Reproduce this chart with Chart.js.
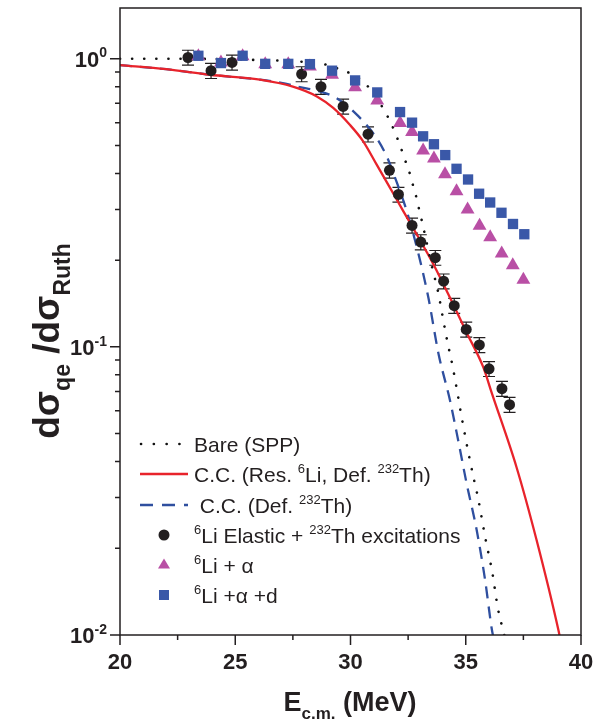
<!DOCTYPE html>
<html>
<head>
<meta charset="utf-8">
<script src="https://cdn.jsdelivr.net/npm/chart.js@4.4.1/dist/chart.umd.min.js"></script>
<style>
  html, body { margin: 0; padding: 0; background: #fff; }
  canvas { display: block; }
</style>
</head>
<body>
<canvas id="chart" width="615" height="726"></canvas>
<script>
// data
const elasticE = [22.95, 23.95, 24.86, 27.88, 28.72, 29.68, 30.76, 31.69, 32.08, 32.67, 33.05, 33.68, 34.04, 34.5, 35.02, 35.59, 36.01, 36.57, 36.9];
const elasticV = [1.01, 0.909, 0.971, 0.885, 0.80, 0.683, 0.547, 0.41, 0.338, 0.264, 0.231, 0.204, 0.169, 0.139, 0.115, 0.1016, 0.0839, 0.0716, 0.063];
const elasticErr = [0.06, 0.055, 0.058, 0.053, 0.048, 0.041, 0.033, 0.025, 0.02, 0.016, 0.014, 0.012, 0.01, 0.0083, 0.0069, 0.0061, 0.005, 0.0043, 0.0038];

const alphaE = [23.4, 24.38, 25.32, 26.3, 27.3, 28.24, 29.2, 30.2, 31.16, 32.15, 32.67, 33.15, 33.62, 34.1, 34.6, 35.08, 35.6, 36.06, 36.56, 37.04, 37.5];
const alphaV = [1.02, 0.97, 1.02, 0.956, 0.956, 0.94, 0.88, 0.796, 0.716, 0.598, 0.557, 0.48, 0.451, 0.397, 0.347, 0.30, 0.263, 0.24, 0.211, 0.192, 0.171];

const alphaDE = [23.4, 24.38, 25.32, 26.3, 27.3, 28.24, 29.2, 30.2, 31.16, 32.15, 32.67, 33.15, 33.62, 34.11, 34.6, 35.1, 35.58, 36.06, 36.55, 37.05, 37.54];
const alphaDV = [1.024, 0.966, 1.024, 0.96, 0.96, 0.958, 0.909, 0.841, 0.764, 0.653, 0.60, 0.538, 0.505, 0.463, 0.415, 0.381, 0.34, 0.317, 0.292, 0.267, 0.246];

const bareE = [20, 22, 24, 26, 27.2, 28, 28.6, 29.1, 29.6, 30.2, 30.7, 31.1, 31.45, 31.74, 31.97, 32.17, 32.35, 32.53, 32.68, 32.83, 32.96, 33.08, 33.2, 33.56, 33.81, 34.0, 34.2, 34.42, 34.62, 34.8, 35.19, 35.55, 35.84, 36.15, 36.4, 36.66, 36.75];
const bareV = [1.0, 1.0, 0.998, 0.99, 0.984, 0.975, 0.966, 0.946, 0.915, 0.873, 0.81, 0.74, 0.664, 0.602, 0.545, 0.495, 0.449, 0.41, 0.371, 0.337, 0.304, 0.277, 0.251, 0.186, 0.154, 0.127, 0.1045, 0.0864, 0.0707, 0.0583, 0.040, 0.0294, 0.0219, 0.0165, 0.0123, 0.0101, 0.0094];

const ccResE = [20, 22, 23.9, 26.07, 27.5, 28.54, 29.25, 29.97, 30.55, 31.13, 31.71, 32.29, 32.87, 33.59, 34.32, 35.04, 35.76, 36.12, 37.2, 38.07, 39.02, 39.12];
const ccResV = [0.95, 0.92, 0.88, 0.846, 0.80, 0.74, 0.675, 0.59, 0.517, 0.43, 0.357, 0.296, 0.246, 0.194, 0.148, 0.112, 0.085, 0.0695, 0.0383, 0.0214, 0.0104, 0.0095];

const ccDefE = [20, 22, 23.9, 26.07, 27.0, 27.8, 28.54, 29.4, 30.34, 31.13, 31.6, 31.93, 32.44, 32.95, 33.38, 33.82, 34.32, 34.68, 35.04, 35.48, 35.84, 36.12, 36.22];
const ccDefV = [0.95, 0.92, 0.88, 0.846, 0.825, 0.797, 0.775, 0.73, 0.632, 0.531, 0.453, 0.387, 0.296, 0.21, 0.148, 0.0945, 0.065, 0.047, 0.0335, 0.023, 0.0155, 0.0106, 0.0096];

const xMajor = [20, 25, 30, 35, 40];
const xMinor = [22.5, 27.5, 32.5, 37.5];
const yMajor = [1, 0.1, 0.01];
const yTickLabels = [['10', '0'], ['10', '-1'], ['10', '-2']];

const INK = '#231f20';
const RED = '#e8232b';
const BLUE = '#2f4f9f';
const PINK = '#b94fa5';
const SQBLUE = '#3a58a8';
const FONT = '"Liberation Sans", Arial, sans-serif';

function pts(xs, ys) {
  return xs.map((x, i) => ({ x: x, y: ys[i] }));
}

// text made of runs: n = normal, sup = superscript, sub = subscript
function drawRuns(ctx, x, y, runs, size, bold, align) {
  const w = bold ? 'bold ' : '';
  const small = Math.round(size * 0.62);
  let total = 0;
  runs.forEach(r => {
    ctx.font = w + (r.s === 'n' ? size : small) + 'px ' + FONT;
    r.w = ctx.measureText(r.t).width;
    total += r.w;
  });
  let cx = align === 'center' ? x - total / 2 : (align === 'right' ? x - total : x);
  ctx.textAlign = 'left';
  ctx.textBaseline = 'alphabetic';
  runs.forEach(r => {
    ctx.font = w + (r.s === 'n' ? size : small) + 'px ' + FONT;
    let dy = 0;
    if (r.s === 'sup') dy = -size * 0.42;
    if (r.s === 'sub') dy = size * 0.3;
    ctx.fillText(r.t, cx, y + dy);
    cx += r.w;
  });
}

function marker(ctx, kind, x, y) {
  ctx.beginPath();
  if (kind === 'circle') {
    ctx.fillStyle = INK;
    ctx.arc(x, y, 5.5, 0, Math.PI * 2);
  } else if (kind === 'triangle') {
    ctx.fillStyle = PINK;
    ctx.moveTo(x, y - 6.5);
    ctx.lineTo(x + 6, y + 3.5);
    ctx.lineTo(x - 6, y + 3.5);
    ctx.closePath();
  } else {
    ctx.fillStyle = SQBLUE;
    ctx.rect(x - 5, y - 5, 10, 10);
  }
  ctx.fill();
}

const errorBars = {
  id: 'errorBars',
  beforeDatasetsDraw(chart) {
    const ctx = chart.ctx, xs = chart.scales.x, ys = chart.scales.y;
    ctx.save();
    ctx.strokeStyle = INK;
    ctx.lineWidth = 1.2;
    elasticE.forEach((e, i) => {
      const px = xs.getPixelForValue(e);
      const top = ys.getPixelForValue(elasticV[i] + elasticErr[i]);
      const bot = ys.getPixelForValue(elasticV[i] - elasticErr[i]);
      ctx.beginPath();
      ctx.moveTo(px, top); ctx.lineTo(px, bot);
      ctx.moveTo(px - 6, top); ctx.lineTo(px + 6, top);
      ctx.moveTo(px - 6, bot); ctx.lineTo(px + 6, bot);
      ctx.stroke();
    });
    ctx.restore();
  }
};

const frameAndText = {
  id: 'frameAndText',
  afterDraw(chart) {
    const ctx = chart.ctx, a = chart.chartArea, xs = chart.scales.x, ys = chart.scales.y;
    ctx.save();
    ctx.strokeStyle = INK;
    ctx.fillStyle = INK;
    ctx.lineWidth = 1.5;
    ctx.strokeRect(a.left, a.top, a.right - a.left, a.bottom - a.top);

    // x ticks
    ctx.beginPath();
    xMajor.forEach(v => { const p = xs.getPixelForValue(v); ctx.moveTo(p, a.bottom); ctx.lineTo(p, a.bottom + 10); });
    xMinor.forEach(v => { const p = xs.getPixelForValue(v); ctx.moveTo(p, a.bottom); ctx.lineTo(p, a.bottom + 5); });
    // y ticks
    yMajor.forEach(v => { const p = ys.getPixelForValue(v); ctx.moveTo(a.left - 10, p); ctx.lineTo(a.left, p); });
    [0.01, 0.1].forEach(d => {
      for (let k = 2; k <= 9; k++) {
        const p = ys.getPixelForValue(d * k);
        ctx.moveTo(a.left - 5, p); ctx.lineTo(a.left, p);
      }
    });
    ctx.stroke();

    // tick labels
    ctx.font = 'bold 22px ' + FONT;
    ctx.textAlign = 'center';
    ctx.textBaseline = 'alphabetic';
    xMajor.forEach(v => ctx.fillText(String(v), xs.getPixelForValue(v), a.bottom + 34));
    yMajor.forEach((v, i) => {
      const p = ys.getPixelForValue(v);
      drawRuns(ctx, 107, p + 8, [{ t: yTickLabels[i][0], s: 'n' }, { t: yTickLabels[i][1], s: 'sup' }], 22, true, 'right');
    });

    // axis titles
    drawRuns(ctx, 350, 711, [{ t: 'E', s: 'n' }, { t: 'c.m.', s: 'sub' }, { t: ' (MeV)', s: 'n' }], 27, true, 'center');
    ctx.save();
    ctx.translate(59, 341);
    ctx.rotate(-Math.PI / 2);
    drawRuns(ctx, 0, 0, [{ t: 'd\u03c3', s: 'n' }, { t: 'qe', s: 'sub' }, { t: ' /d\u03c3', s: 'n' }, { t: 'Ruth', s: 'sub' }], 37, true, 'center');
    ctx.restore();

    // legend
    const lx = 194, rows = [444, 474, 505, 535, 565, 595];
    ctx.lineWidth = 2.6;
    ctx.lineCap = 'round';
    ctx.strokeStyle = '#111';
    ctx.setLineDash([0.1, 12.7]);
    ctx.beginPath(); ctx.moveTo(141, rows[0]); ctx.lineTo(186, rows[0]); ctx.stroke();
    ctx.lineCap = 'butt';
    ctx.setLineDash([]);
    ctx.lineWidth = 2.3;
    ctx.strokeStyle = RED;
    ctx.beginPath(); ctx.moveTo(140, rows[1]); ctx.lineTo(188, rows[1]); ctx.stroke();
    ctx.strokeStyle = BLUE;
    ctx.setLineDash([13, 9]);
    ctx.beginPath(); ctx.moveTo(140, rows[2]); ctx.lineTo(188, rows[2]); ctx.stroke();
    ctx.setLineDash([]);
    marker(ctx, 'circle', 164, rows[3]);
    marker(ctx, 'triangle', 164, rows[4]);
    marker(ctx, 'square', 164, rows[5]);

    ctx.fillStyle = INK;
    const items = [
      [{ t: 'Bare (SPP)', s: 'n' }],
      [{ t: 'C.C. (Res. ', s: 'n' }, { t: '6', s: 'sup' }, { t: 'Li, Def. ', s: 'n' }, { t: '232', s: 'sup' }, { t: 'Th)', s: 'n' }],
      [{ t: ' C.C. (Def. ', s: 'n' }, { t: '232', s: 'sup' }, { t: 'Th)', s: 'n' }],
      [{ t: '6', s: 'sup' }, { t: 'Li Elastic + ', s: 'n' }, { t: '232', s: 'sup' }, { t: 'Th excitations', s: 'n' }],
      [{ t: '6', s: 'sup' }, { t: 'Li + \u03b1', s: 'n' }],
      [{ t: '6', s: 'sup' }, { t: 'Li +\u03b1 +d', s: 'n' }]
    ];
    items.forEach((runs, i) => drawRuns(ctx, lx, rows[i] + 7.5, runs, 21, false, 'left'));
    ctx.restore();
  }
};

const ctx = document.getElementById('chart').getContext('2d');

new Chart(ctx, {
  type: 'scatter',
  data: {
    datasets: [
      {
        label: '6Li +a +d',
        data: pts(alphaDE, alphaDV),
        pointStyle: 'rect',
        pointRadius: 7.3,
        backgroundColor: SQBLUE,
        borderWidth: 0,
        order: 0
      },
      {
        label: '6Li + a',
        data: pts(alphaE, alphaV),
        pointStyle: 'triangle',
        pointRadius: 8,
        backgroundColor: PINK,
        borderWidth: 0,
        order: 1
      },
      {
        label: '6Li Elastic + 232Th excitations',
        data: pts(elasticE, elasticV),
        pointStyle: 'circle',
        pointRadius: 5.5,
        backgroundColor: INK,
        borderWidth: 0,
        order: 2
      },
      {
        label: 'Bare (SPP)',
        data: pts(bareE, bareV),
        showLine: true,
        pointRadius: 0,
        borderColor: '#111',
        borderWidth: 2.6,
        borderDash: [0.1, 12],
        borderCapStyle: 'round',
        cubicInterpolationMode: 'monotone',
        order: 3
      },
      {
        label: 'C.C. (Res. 6Li, Def. 232Th)',
        data: pts(ccResE, ccResV),
        showLine: true,
        pointRadius: 0,
        borderColor: RED,
        borderWidth: 2.3,
        cubicInterpolationMode: 'monotone',
        order: 4
      },
      {
        label: 'C.C. (Def. 232Th)',
        data: pts(ccDefE, ccDefV),
        showLine: true,
        pointRadius: 0,
        borderColor: BLUE,
        borderWidth: 2.3,
        borderDash: [12, 8],
        cubicInterpolationMode: 'monotone',
        order: 5
      }
    ]
  },
  options: {
    responsive: false,
    animation: false,
    events: [],
    layout: { padding: { top: 6, right: 34, left: 0, bottom: 0 } },
    plugins: { legend: { display: false }, tooltip: { enabled: false } },
    scales: {
      x: {
        type: 'linear', min: 20, max: 40,
        afterFit(s) { s.height = 91; },
        ticks: { display: false },
        grid: { display: false },
        border: { display: false }
      },
      y: {
        type: 'logarithmic', min: 0.01, max: 1.5,
        afterFit(s) { s.width = 120; },
        ticks: { display: false },
        grid: { display: false },
        border: { display: false }
      }
    }
  },
  plugins: [errorBars, frameAndText]
});
</script>
</body>
</html>
